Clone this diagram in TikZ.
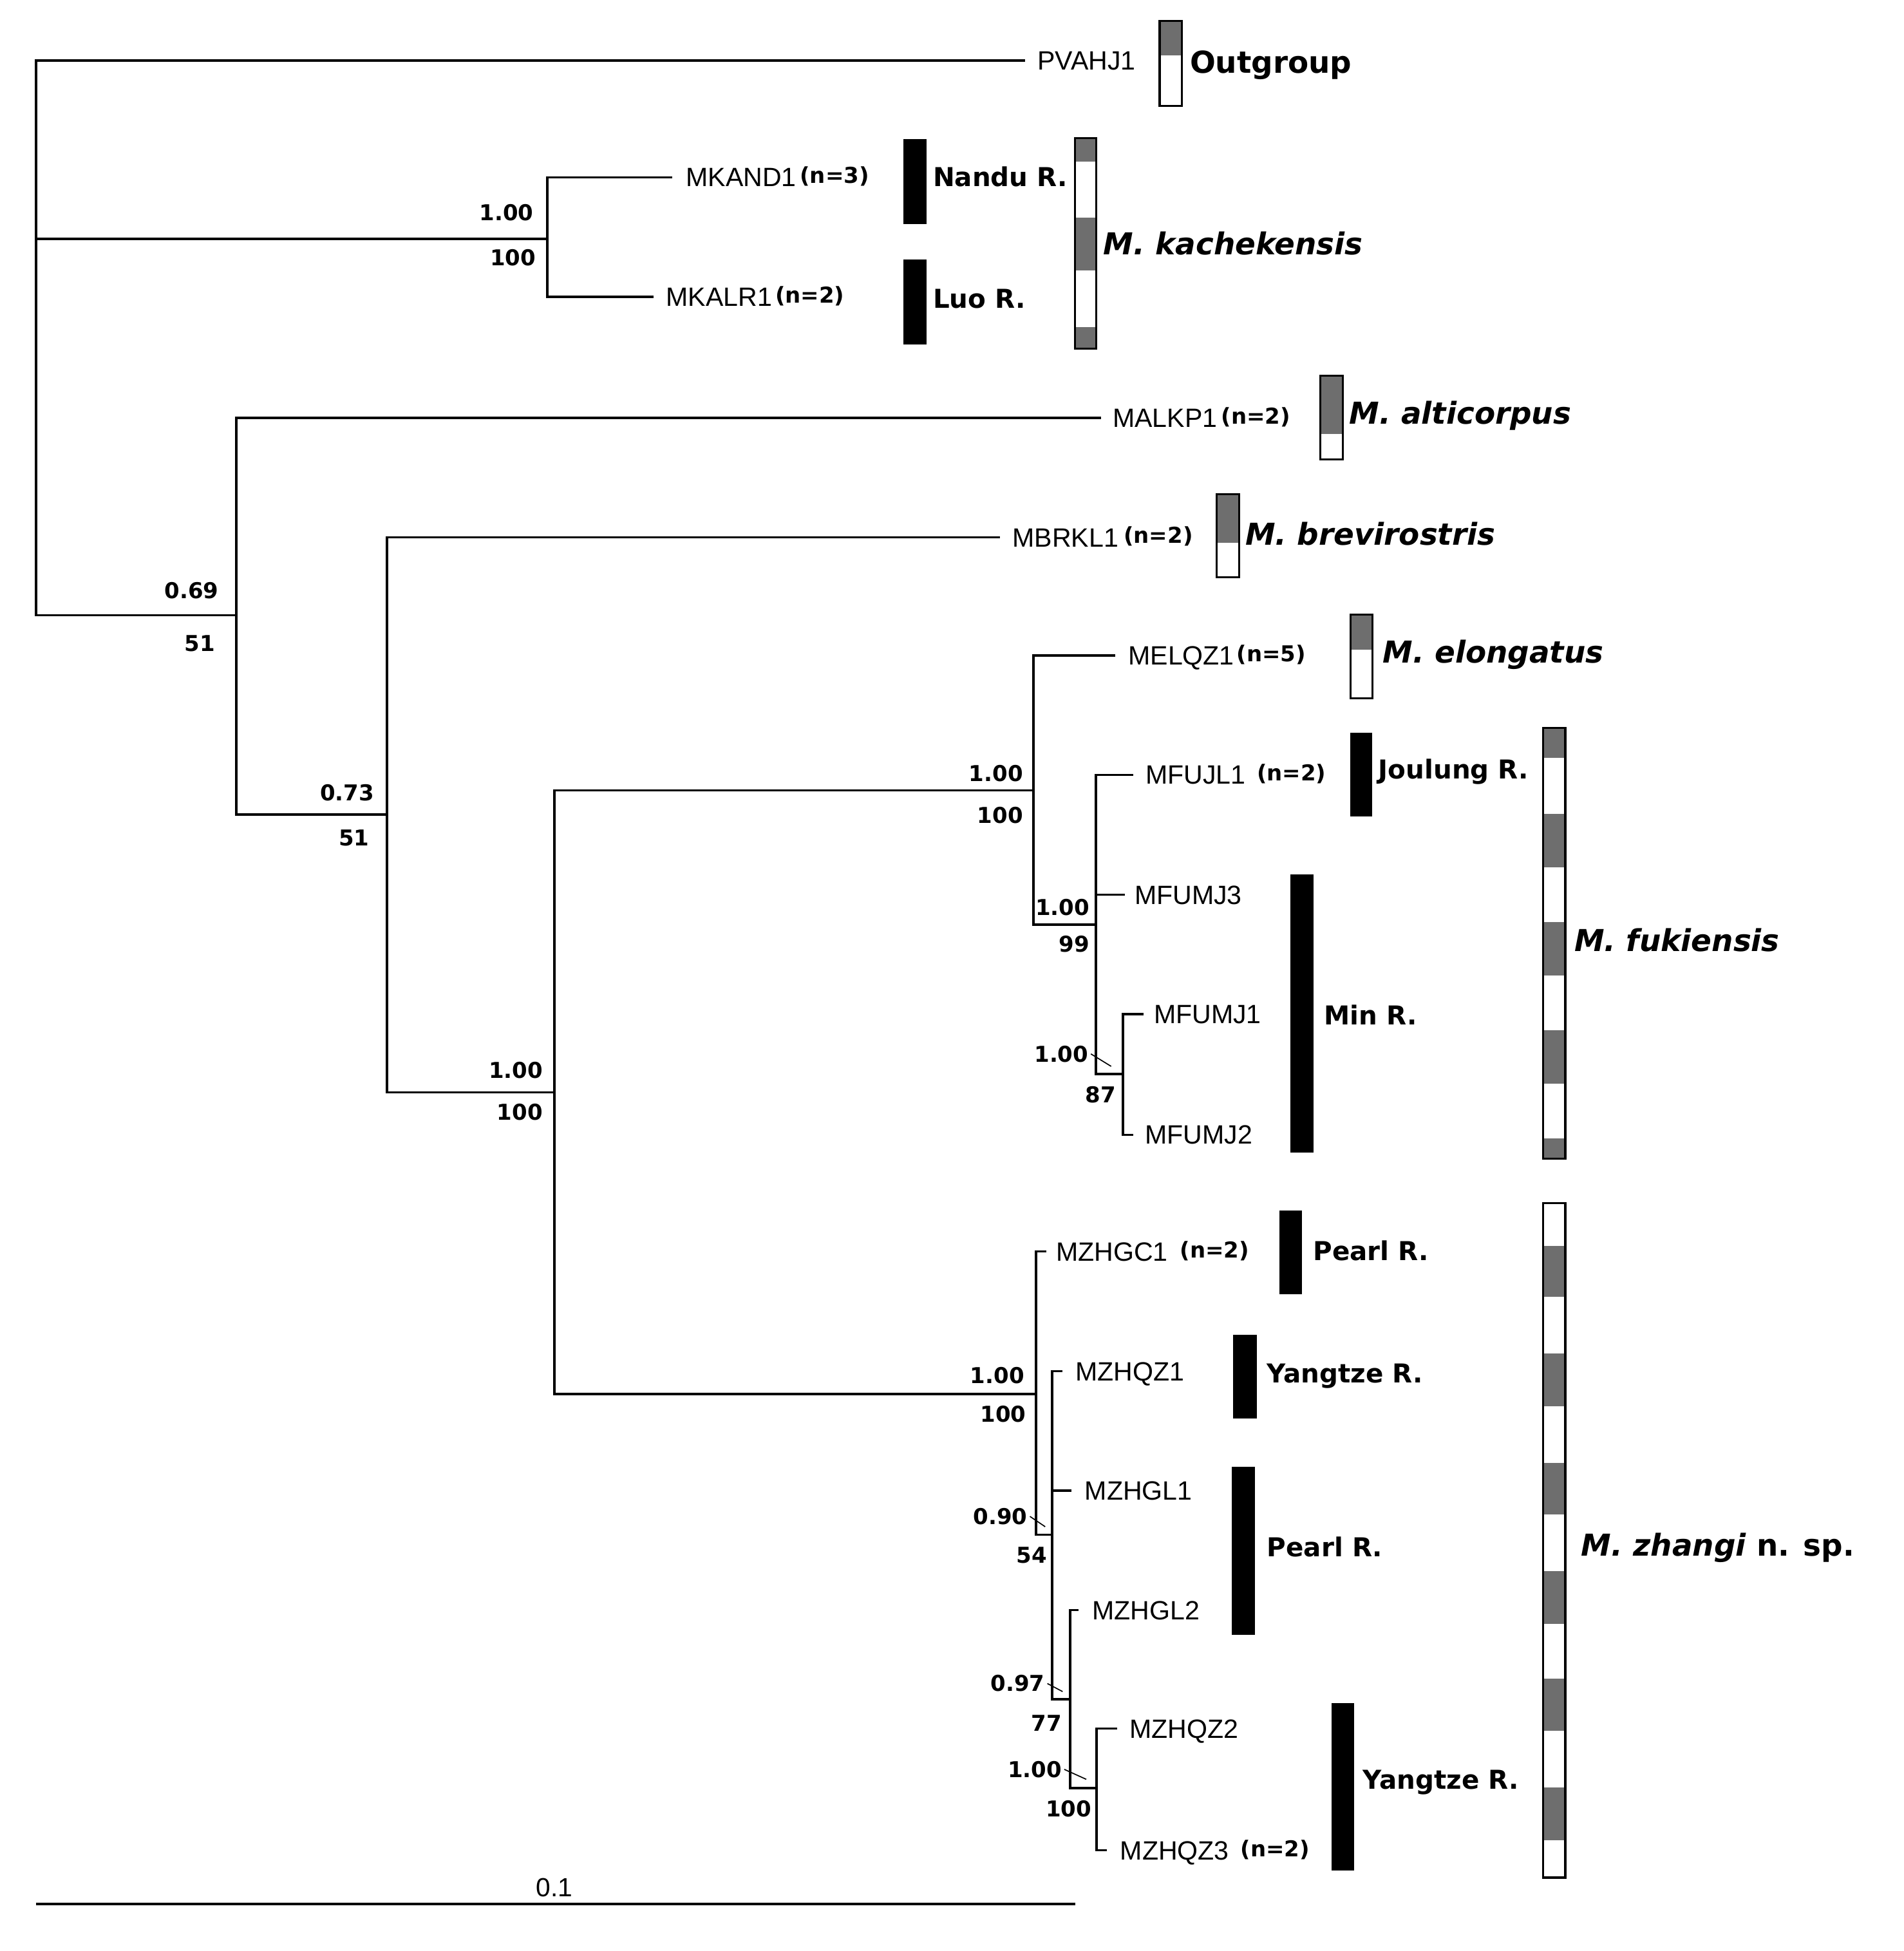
\documentclass[tikz,border=0pt]{standalone}
\usepackage{fontspec}
\setmainfont{Liberation Sans}
\newfontfamily\dv{DejaVu Sans}
\newcommand{\nn}[2]{\hspace{#1}{\dv\bfseries\fontsize{10}{12}\selectfont\raisebox{1.5pt}{(#2)}}}
\begin{document}
\begin{tikzpicture}[x=0.02cm, y=-0.02cm,
  br/.style={line width=1.05pt},
  taxon/.style={anchor=base west, inner sep=0pt, yshift=-4.3pt, font=\fontsize{12.1}{14}\selectfont},
  supp/.style={anchor=base east, inner sep=0pt, yshift=-3.65pt, font=\dv\bfseries\fontsize{10}{12}\selectfont},
  river/.style={anchor=base west, inner sep=0pt, yshift=-4.3pt, font=\dv\bfseries\fontsize{11.9}{13}\selectfont},
  species/.style={anchor=base west, inner sep=0pt, yshift=-5pt, font=\dv\bfseries\fontsize{13.8}{16}\selectfont},
  rbar/.style={fill=black},
  sbar/.style={draw=black, line width=0.9pt},
  hat/.style={fill=black!57},
  leader/.style={line width=0.5pt}]
\useasboundingbox (0,0) rectangle (1530,1568);

% ---------- internal nodes ----------
\coordinate (root) at (29,192);
\coordinate (K) at (440,192);
\coordinate (A) at (190,494.5);
\coordinate (B) at (311,654.5);
\coordinate (C) at (445.7,878);
\coordinate (D) at (830.7,635.2);
\coordinate (E) at (880.8,743.2);
\coordinate (F) at (902.6,863.3);
\coordinate (G) at (832.5,1120.5);
\coordinate (H) at (845.5,1233.5);
\coordinate (I) at (860,1365.5);
\coordinate (J) at (881.4,1437);

% ---------- tips ----------
\coordinate (tPV) at (823.8,48.5);
\coordinate (tKAND) at (540.4,142.5);
\coordinate (tKALR) at (525.3,238.6);
\coordinate (tALKP) at (885,335.8);
\coordinate (tBRKL) at (803.5,431.8);
\coordinate (tELQZ) at (896.5,526.8);
\coordinate (tFUJL) at (911,622.7);
\coordinate (tFUMJ3) at (904,719);
\coordinate (tFUMJ1) at (918.8,815);
\coordinate (tFUMJ2) at (911,912);
\coordinate (tZHGC) at (840.7,1005.8);
\coordinate (tZHQZ1) at (853.6,1102);
\coordinate (tZHGL1) at (861.3,1198);
\coordinate (tZHGL2) at (867,1294);
\coordinate (tZHQZ2) at (898,1389.3);
\coordinate (tZHQZ3) at (889.5,1487);

% ---------- branches ----------
\draw[br] (root) |- (tPV);
\draw[br] (root) -- (K);
\draw[br] (root) |- (A);
\draw[br] (K) |- (tKAND);
\draw[br] (K) |- (tKALR);
\draw[br] (A) |- (tALKP);
\draw[br] (A) |- (B);
\draw[br] (B) |- (tBRKL);
\draw[br] (B) |- (C);
\draw[br] (C) |- (D);
\draw[br] (C) |- (G);
\draw[br] (D) |- (tELQZ);
\draw[br] (D) |- (E);
\draw[br] (E) |- (tFUJL);
\draw[br] (E) |- (tFUMJ3);
\draw[br] (E) |- (F);
\draw[br] (F) |- (tFUMJ1);
\draw[br] (F) |- (tFUMJ2);
\draw[br] (G) |- (tZHGC);
\draw[br] (G) |- (H);
\draw[br] (H) |- (tZHQZ1);
\draw[br] (H) |- (tZHGL1);
\draw[br] (H) |- (I);
\draw[br] (I) |- (tZHGL2);
\draw[br] (I) |- (J);
\draw[br] (J) |- (tZHQZ2);
\draw[br] (J) |- (tZHQZ3);

% ---------- taxon labels ----------
\node[taxon] (lPV) at (833.5,48.5) {PVAHJ1};
\node[taxon] (lKAND) at (551,142.5) {MKAND1\nn{1.7pt}{n=3}};
\node[taxon] (lKALR) at (535,238.6) {MKALR1\nn{1.5pt}{n=2}};
\node[taxon] (lALKP) at (894,335.8) {MALKP1\nn{1.9pt}{n=2}};
\node[taxon] (lBRKL) at (813.5,431.8) {MBRKL1\nn{2.4pt}{n=2}};
\node[taxon] (lELQZ) at (906.5,526.8) {MELQZ1\nn{1.1pt}{n=5}};
\node[taxon] (lFUJL) at (920.5,622.7) {MFUJL1\nn{5.1pt}{n=2}};
\node[taxon] (lFUMJ3) at (911.5,719) {MFUMJ3};
\node[taxon] (lFUMJ1) at (927,815) {MFUMJ1};
\node[taxon] (lFUMJ2) at (920,912) {MFUMJ2};
\node[taxon] (lZHGC) at (848.5,1005.8) {MZHGC1\nn{5.6pt}{n=2}};
\node[taxon] (lZHQZ1) at (864,1102) {MZHQZ1};
\node[taxon] (lZHGL1) at (871.5,1198) {MZHGL1};
\node[taxon] (lZHGL2) at (877.5,1294) {MZHGL2};
\node[taxon] (lZHQZ2) at (907.5,1389.3) {MZHQZ2};
\node[taxon] (lZHQZ3) at (900,1487) {MZHQZ3\nn{5.3pt}{n=2}};

% ---------- support values ----------
\node[supp] (sK1) at (429,171) {1.00};
\node[supp] (sK2) at (431,207) {100};
\node[supp] (sA1) at (176,474.8) {0.69};
\node[supp] (sA2) at (173,517) {51};
\node[supp] (sB1) at (301,637) {0.73};
\node[supp] (sB2) at (297,673.5) {51};
\node[supp] (sC1) at (436.5,860) {1.00};
\node[supp] (sC2) at (436.5,893.8) {100};
\node[supp] (sD1) at (822.5,621.7) {1.00};
\node[supp] (sD2) at (822.5,655) {100};
\node[supp] (sE1) at (876,729.4) {1.00};
\node[supp] (sE2) at (876,758.6) {99};
\node[supp] (sF1) at (875,847) {1.00};
\node[supp] (sF2) at (897,880) {87};
\node[supp] (sG1) at (823.5,1105.6) {1.00};
\node[supp] (sG2) at (825,1136.4) {100};
\node[supp] (sH1) at (826,1218.7) {0.90};
\node[supp] (sH2) at (841.7,1250) {54};
\node[supp] (sI1) at (840,1353) {0.97};
\node[supp] (sI2) at (853.6,1385) {77};
\node[supp] (sJ1) at (853.6,1422) {1.00};
\node[supp] (sJ2) at (877.6,1453.8) {100};

% leader lines
\coordinate (qF) at (893,857);
\coordinate (qH) at (840,1227);
\coordinate (qI) at (854,1359.5);
\coordinate (qJ) at (873,1430);
\draw[leader] ([xshift=1pt]sF1.east) -- (qF);
\draw[leader] ([xshift=1pt]sH1.east) -- (qH);
\draw[leader] ([xshift=1pt]sI1.east) -- (qI);
\draw[leader] ([xshift=1pt]sJ1.east) -- (qJ);

% ---------- river bars ----------
\fill[rbar] (726,112) rectangle (744.5,180);
\fill[rbar] (726,208.7) rectangle (744.5,276.8);
\fill[rbar] (1085,588.7) rectangle (1103,656);
\fill[rbar] (1037,703) rectangle (1055.5,926.5);
\fill[rbar] (1028.4,973) rectangle (1046.6,1040);
\fill[rbar] (991,1073) rectangle (1010,1140);
\fill[rbar] (990,1179) rectangle (1008.5,1314);
\fill[rbar] (1070,1368.6) rectangle (1088.5,1503.5);

\node[river] (rNandu) at (749.5,142.5) {Nandu R.};
\node[river] (rLuo) at (749.5,240) {Luo R.};
\node[river] (rJoul) at (1107.5,618.5) {Joulung R.};
\node[river] (rMin) at (1064,816) {Min R.};
\node[river] (rPearl1) at (1055,1005.5) {Pearl R.};
\node[river] (rYang1) at (1018,1103.7) {Yangtze R.};
\node[river] (rPearl2) at (1018,1243.4) {Pearl R.};
\node[river] (rYang2) at (1095,1430.5) {Yangtze R.};

% ---------- species bars ----------
% Outgroup
\fill[hat] (932,17) rectangle (950,44.5);
\draw[sbar] (932,17) rectangle (950,85);
% kachekensis
\fill[hat] (864,111) rectangle (881,130);
\fill[hat] (864,175) rectangle (881,217.5);
\fill[hat] (864,263) rectangle (881,280);
\draw[sbar] (864,111) rectangle (881,280);
% alticorpus
\fill[hat] (1061,302) rectangle (1079,349);
\draw[sbar] (1061,302) rectangle (1079,369);
% brevirostris
\fill[hat] (978,397) rectangle (996,436);
\draw[sbar] (978,397) rectangle (996,464);
% elongatus
\fill[hat] (1085.6,494) rectangle (1103,522);
\draw[sbar] (1085.6,494) rectangle (1103,561);
% fukiensis
\foreach \a/\b in {585/609,654/697,741/784,828/871,915/931}
  \fill[hat] (1240,\a) rectangle (1258,\b);
\draw[sbar] (1240,585) rectangle (1258,931);
% zhangi
\foreach \a/\b in {1001.5/1042,1088/1130,1175.5/1217,1262.5/1305,1349/1391,1436.5/1479}
  \fill[hat] (1240,\a) rectangle (1258,\b);
\draw[sbar] (1240,967) rectangle (1258,1509);

\node[species] (spOut) at (956,50) {Outgroup};
\node[species] (spKach) at (886.5,196) {\itshape M. kachekensis};
\node[species] (spAlti) at (1084,332) {\itshape M. alticorpus};
\node[species] (spBrev) at (1000.5,429.5) {\itshape M. brevirostris};
\node[species] (spElon) at (1111,524) {\itshape M. elongatus};
\node[species] (spFuki) at (1265,756) {\itshape M. fukiensis};
\node[species] (spZhan) at (1270.5,1241.5) {{\itshape M. zhangi} n. sp.};

% ---------- scale bar ----------
\coordinate (sb1) at (29,1530);
\coordinate (sb2) at (864,1530);
\draw[line width=1.2pt] (sb1) -- (sb2);
\node[anchor=base, inner sep=0pt, yshift=-4.3pt, font=\fontsize{12}{14}\selectfont] (sbl) at (445.5,1516.5) {0.1};
\end{tikzpicture}
\end{document}
